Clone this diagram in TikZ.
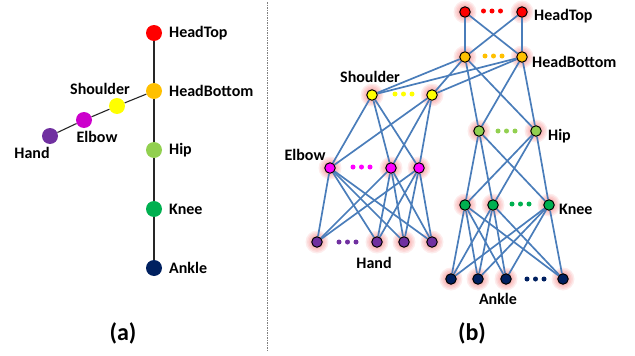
\documentclass[tikz,border=0pt]{standalone}
\usepackage{fontspec}
\setmainfont{Carlito}
\pgfdeclarelayer{glowlayer}
\pgfdeclarelayer{edgelayer}
\pgfsetlayers{glowlayer,edgelayer,main}
\definecolor{cHT}{HTML}{FF0000}
\definecolor{cHB}{HTML}{FFC000}
\definecolor{cSH}{HTML}{FFFF00}
\definecolor{cELa}{HTML}{CC00CC}
\definecolor{cEL}{HTML}{FF00FF}
\definecolor{cHA}{HTML}{7030A0}
\definecolor{cHI}{HTML}{92D050}
\definecolor{cKN}{HTML}{00B050}
\definecolor{cAN}{HTML}{002060}
\definecolor{edgeblue}{HTML}{4A7DBA}
\definecolor{glowred}{HTML}{F05050}
\begin{document}
\begin{tikzpicture}[x=1pt,y=-1pt,
  anode/.style={circle, inner sep=0pt, minimum size=16pt, fill=#1},
  bnode/.style={circle, draw=black, line width=1pt, inner sep=0pt, minimum size=10.5pt, fill=#1},
  dotm/.style={circle, inner sep=0pt, minimum size=5pt, fill=#1},
  lbl/.style={font=\bfseries\fontsize{16}{18}\selectfont, inner sep=0pt, text=black},
  captxt/.style={font=\bfseries\fontsize{24}{28}\selectfont, inner sep=0pt},
  skel/.style={draw=black!85, line width=1.1pt},
  edge/.style={draw=edgeblue, line width=1.7pt}]
\useasboundingbox (0,0) rectangle (635,356);

% separator
\coordinate (sepT) at (267,2);
\coordinate (sepB) at (267,350);
\draw[gray, line width=0.8pt, dash pattern=on 1.5pt off 1pt] (sepT) -- (sepB);

% ---------- panel (a) ----------
\node[anode=cHT] (aht) at (154,33) {};
\node[anode=cHB] (ahb) at (154,91) {};
\node[anode=cHI] (ahi) at (154,150) {};
\node[anode=cKN] (akn) at (154,209) {};
\node[anode=cAN] (aan) at (154,268) {};
\node[anode=cSH] (ash) at (117,106) {};
\node[anode=cELa] (ael) at (84,120) {};
\node[anode=cHA] (aha) at (50,136) {};
\begin{pgfonlayer}{edgelayer}
\draw[skel] (aht) -- (ahb) -- (ahi) -- (akn) -- (aan);
\draw[skel] (aha) -- (ael) -- (ash) -- (ahb);
\end{pgfonlayer}
\node[lbl, anchor=west] (laht) at (169,33) {HeadTop};
\node[lbl, anchor=west] (lahb) at (169,91) {HeadBottom};
\node[lbl, anchor=west] (lahi) at (169,150) {Hip};
\node[lbl, anchor=west] (lakn) at (169,209) {Knee};
\node[lbl, anchor=west] (laan) at (169,268) {Ankle};
\node[lbl] (lash) at (100,89) {Shoulder};
\node[lbl] (lael) at (97,137) {Elbow};
\node[lbl] (laha) at (32,153) {Hand};
\node[captxt] (capa) at (123,333) {(a)};

% ---------- panel (b) ----------
\node[bnode=cHT] (ht1) at (465,12) {};
\node[bnode=cHT] (ht2) at (522,12) {};
\node[bnode=cHB] (hb1) at (465,57) {};
\node[bnode=cHB] (hb2) at (522,57) {};
\node[bnode=cSH] (sh1) at (372,95) {};
\node[bnode=cSH] (sh2) at (432,95) {};
\node[bnode=cHI] (hi1) at (479,131) {};
\node[bnode=cHI] (hi2) at (536,131) {};
\node[bnode=cEL] (el1) at (330,168) {};
\node[bnode=cEL] (el2) at (391,168) {};
\node[bnode=cEL] (el3) at (419,168) {};
\node[bnode=cKN] (kn1) at (465,205) {};
\node[bnode=cKN] (kn2) at (493,205) {};
\node[bnode=cKN] (kn3) at (549,205) {};
\node[bnode=cHA] (ha1) at (317,242) {};
\node[bnode=cHA] (ha2) at (377,242) {};
\node[bnode=cHA] (ha3) at (404,242) {};
\node[bnode=cHA] (ha4) at (432,242) {};
\node[bnode=cAN] (an1) at (451,279) {};
\node[bnode=cAN] (an2) at (478,279) {};
\node[bnode=cAN] (an3) at (506,279) {};
\node[bnode=cAN] (an4) at (563,279) {};

% ellipsis dots
\foreach \i/\x in {1/483.5,2/492,3/500.5} \node[dotm=cHT] (dht\i) at (\x,11) {};
\foreach \i/\x in {1/485,2/493.5,3/502} \node[dotm=cHB] (dhb\i) at (\x,56) {};
\foreach \i/\x in {1/395,2/403.5,3/412} \node[dotm=cSH] (dsh\i) at (\x,94) {};
\foreach \i/\x in {1/498,2/506.5,3/515} \node[dotm=cHI] (dhi\i) at (\x,131) {};
\foreach \i/\x in {1/353,2/361.5,3/370} \node[dotm=cEL] (del\i) at (\x,167) {};
\foreach \i/\x in {1/339,2/347.5,3/356} \node[dotm=cHA] (dha\i) at (\x,242) {};
\foreach \i/\x in {1/512,2/520.5,3/529} \node[dotm=cKN] (dkn\i) at (\x,204) {};
\foreach \i/\x in {1/527,2/535.5,3/544} \node[dotm=cAN] (dan\i) at (\x,279) {};

% glow
\begin{pgfonlayer}{glowlayer}
\foreach \n in {ht1,ht2,hb1,hb2,sh1,sh2,hi1,hi2,el1,el2,el3,kn1,kn2,kn3,ha1,ha2,ha3,ha4,an1,an2,an3,an4}{
  \foreach \r in {11.5,10,8.5,7}{
    \fill[glowred, fill opacity=0.11] (\n) circle[radius=\r pt];
  }
}
\end{pgfonlayer}

% edges
\begin{pgfonlayer}{edgelayer}
\foreach \u in {ht1,ht2} \foreach \v in {hb1,hb2} \draw[edge] (\u) -- (\v);
\foreach \u in {hb1,hb2} \foreach \v in {sh1,sh2,hi1,hi2} \draw[edge] (\u) -- (\v);
\foreach \u in {sh1,sh2} \foreach \v in {el1,el2,el3} \draw[edge] (\u) -- (\v);
\foreach \u in {el1,el2,el3} \foreach \v in {ha1,ha2,ha3,ha4} \draw[edge] (\u) -- (\v);
\foreach \u in {hi1,hi2} \foreach \v in {kn1,kn2,kn3} \draw[edge] (\u) -- (\v);
\foreach \u in {kn1,kn2,kn3} \foreach \v in {an1,an2,an3,an4} \draw[edge] (\u) -- (\v);
\end{pgfonlayer}

% labels
\node[lbl, anchor=west] (lbht) at (534,16) {HeadTop};
\node[lbl, anchor=west] (lbhb) at (532,62) {HeadBottom};
\node[lbl] (lbsh) at (370,77) {Shoulder};
\node[lbl, anchor=west] (lbhi) at (548,136) {Hip};
\node[lbl] (lbel) at (305,155) {Elbow};
\node[lbl, anchor=west] (lbkn) at (559,209) {Knee};
\node[lbl] (lbha) at (374,263) {Hand};
\node[lbl] (lban) at (498,299) {Ankle};
\node[captxt] (capb) at (472,333) {(b)};
\end{tikzpicture}
\end{document}
